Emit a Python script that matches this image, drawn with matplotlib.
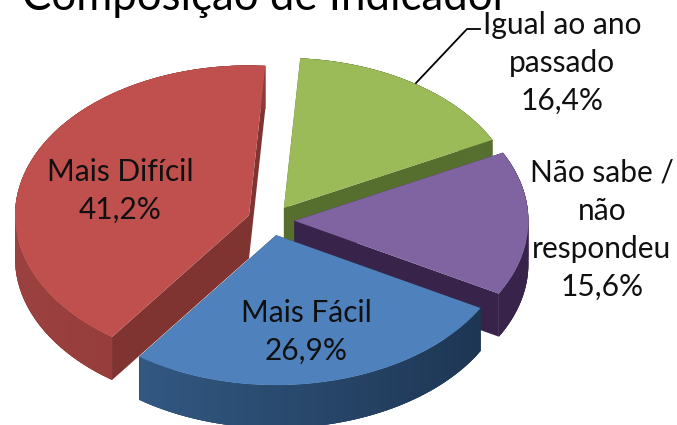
import matplotlib
matplotlib.use('Agg')
import matplotlib.pyplot as plt
from matplotlib.colors import to_rgb
import numpy as np

# slices, counter clockwise from start_angle
categories = ['Mais Difícil', 'Mais Fácil', 'Não sabe /\nnão\nrespondeu', 'Igual ao ano\npassado']
values = [41.2, 26.9, 15.6, 16.4]
value_labels = ['41,2%', '26,9%', '15,6%', '16,4%']
top_colors = ['#C0504D', '#4F81BD', '#8064A2', '#9BBB59']
side_left = ['#9A403E', '#38628F', '#46305A', '#66803A']
side_right = ['#7F3432', '#1C3350', '#38244A', '#566E2E']
title = 'Composição de Indicador'

start_angle = 86.0
explode = 0.1
cx, cy = 271, 220.5
rx, ry = 234, 150
depth = 43
draw_order = [3, 2, 0, 1]
label_pos = [(120, 191), (306, 332), (602, 230), (562, 63)]

plt.rcParams['font.family'] = ['Lato', 'DejaVu Sans']
fig = plt.figure(figsize=(6.77, 4.25), dpi=100)
ax = fig.add_axes([0, 0, 1, 1])
ax.set_xlim(0, 677)
ax.set_ylim(425, 0)
ax.axis('off')

spans = 360 * np.array(values) / sum(values)
starts = start_angle + np.concatenate([[0], np.cumsum(spans)[:-1]])


def rim(ox, oy, deg):
    a = np.radians(deg)
    return ox + rx * np.cos(a), oy - ry * np.sin(a)


for i in draw_order:
    a0, a1 = starts[i], starts[i] + spans[i]
    mid = np.radians((a0 + a1) / 2)
    ox = cx + explode * rx * np.cos(mid)
    oy = cy - explode * ry * np.sin(mid)

    # radial side faces first, the top hides the ones facing away
    for a in (a0, a1):
        x, y = rim(ox, oy, a)
        ax.fill([ox, x, x, ox], [oy, y, y + depth, oy + depth], color=side_right[i], lw=0)

    # outer wall: one solid piece, then overlapping strips for the shading
    steps = np.linspace(a0, a1, 60)
    xs, ys = rim(ox, oy, steps)
    ax.fill(np.r_[xs, xs[::-1]], np.r_[ys, ys[::-1] + depth], color=side_right[i], lw=0)
    c0, c1 = np.array(to_rgb(side_left[i])), np.array(to_rgb(side_right[i]))
    for k in range(len(steps) - 2):
        t = np.clip((xs[k] - (cx - rx)) / (2 * rx), 0, 1)
        ax.fill([xs[k], xs[k + 1], xs[k + 2], xs[k + 2], xs[k + 1], xs[k]],
                [ys[k], ys[k + 1], ys[k + 2], ys[k + 2] + depth, ys[k + 1] + depth, ys[k] + depth],
                color=c0 + (c1 - c0) * t, lw=0)

    ax.fill(np.r_[ox, xs], np.r_[oy, ys], color=top_colors[i], lw=0)

for i in range(len(categories)):
    ax.text(label_pos[i][0], label_pos[i][1], categories[i] + '\n' + value_labels[i],
            ha='center', va='center', fontsize=21.5, color='#101010', linespacing=1.44)

# leader line for the green slice
ax.plot([416, 467, 480], [83, 29, 29], color='black', lw=1.3)

ax.text(22, 9.5, title, fontsize=31.5, color='black', ha='left', va='baseline')

plt.savefig('out.png', dpi=100)
plt.close('all')
